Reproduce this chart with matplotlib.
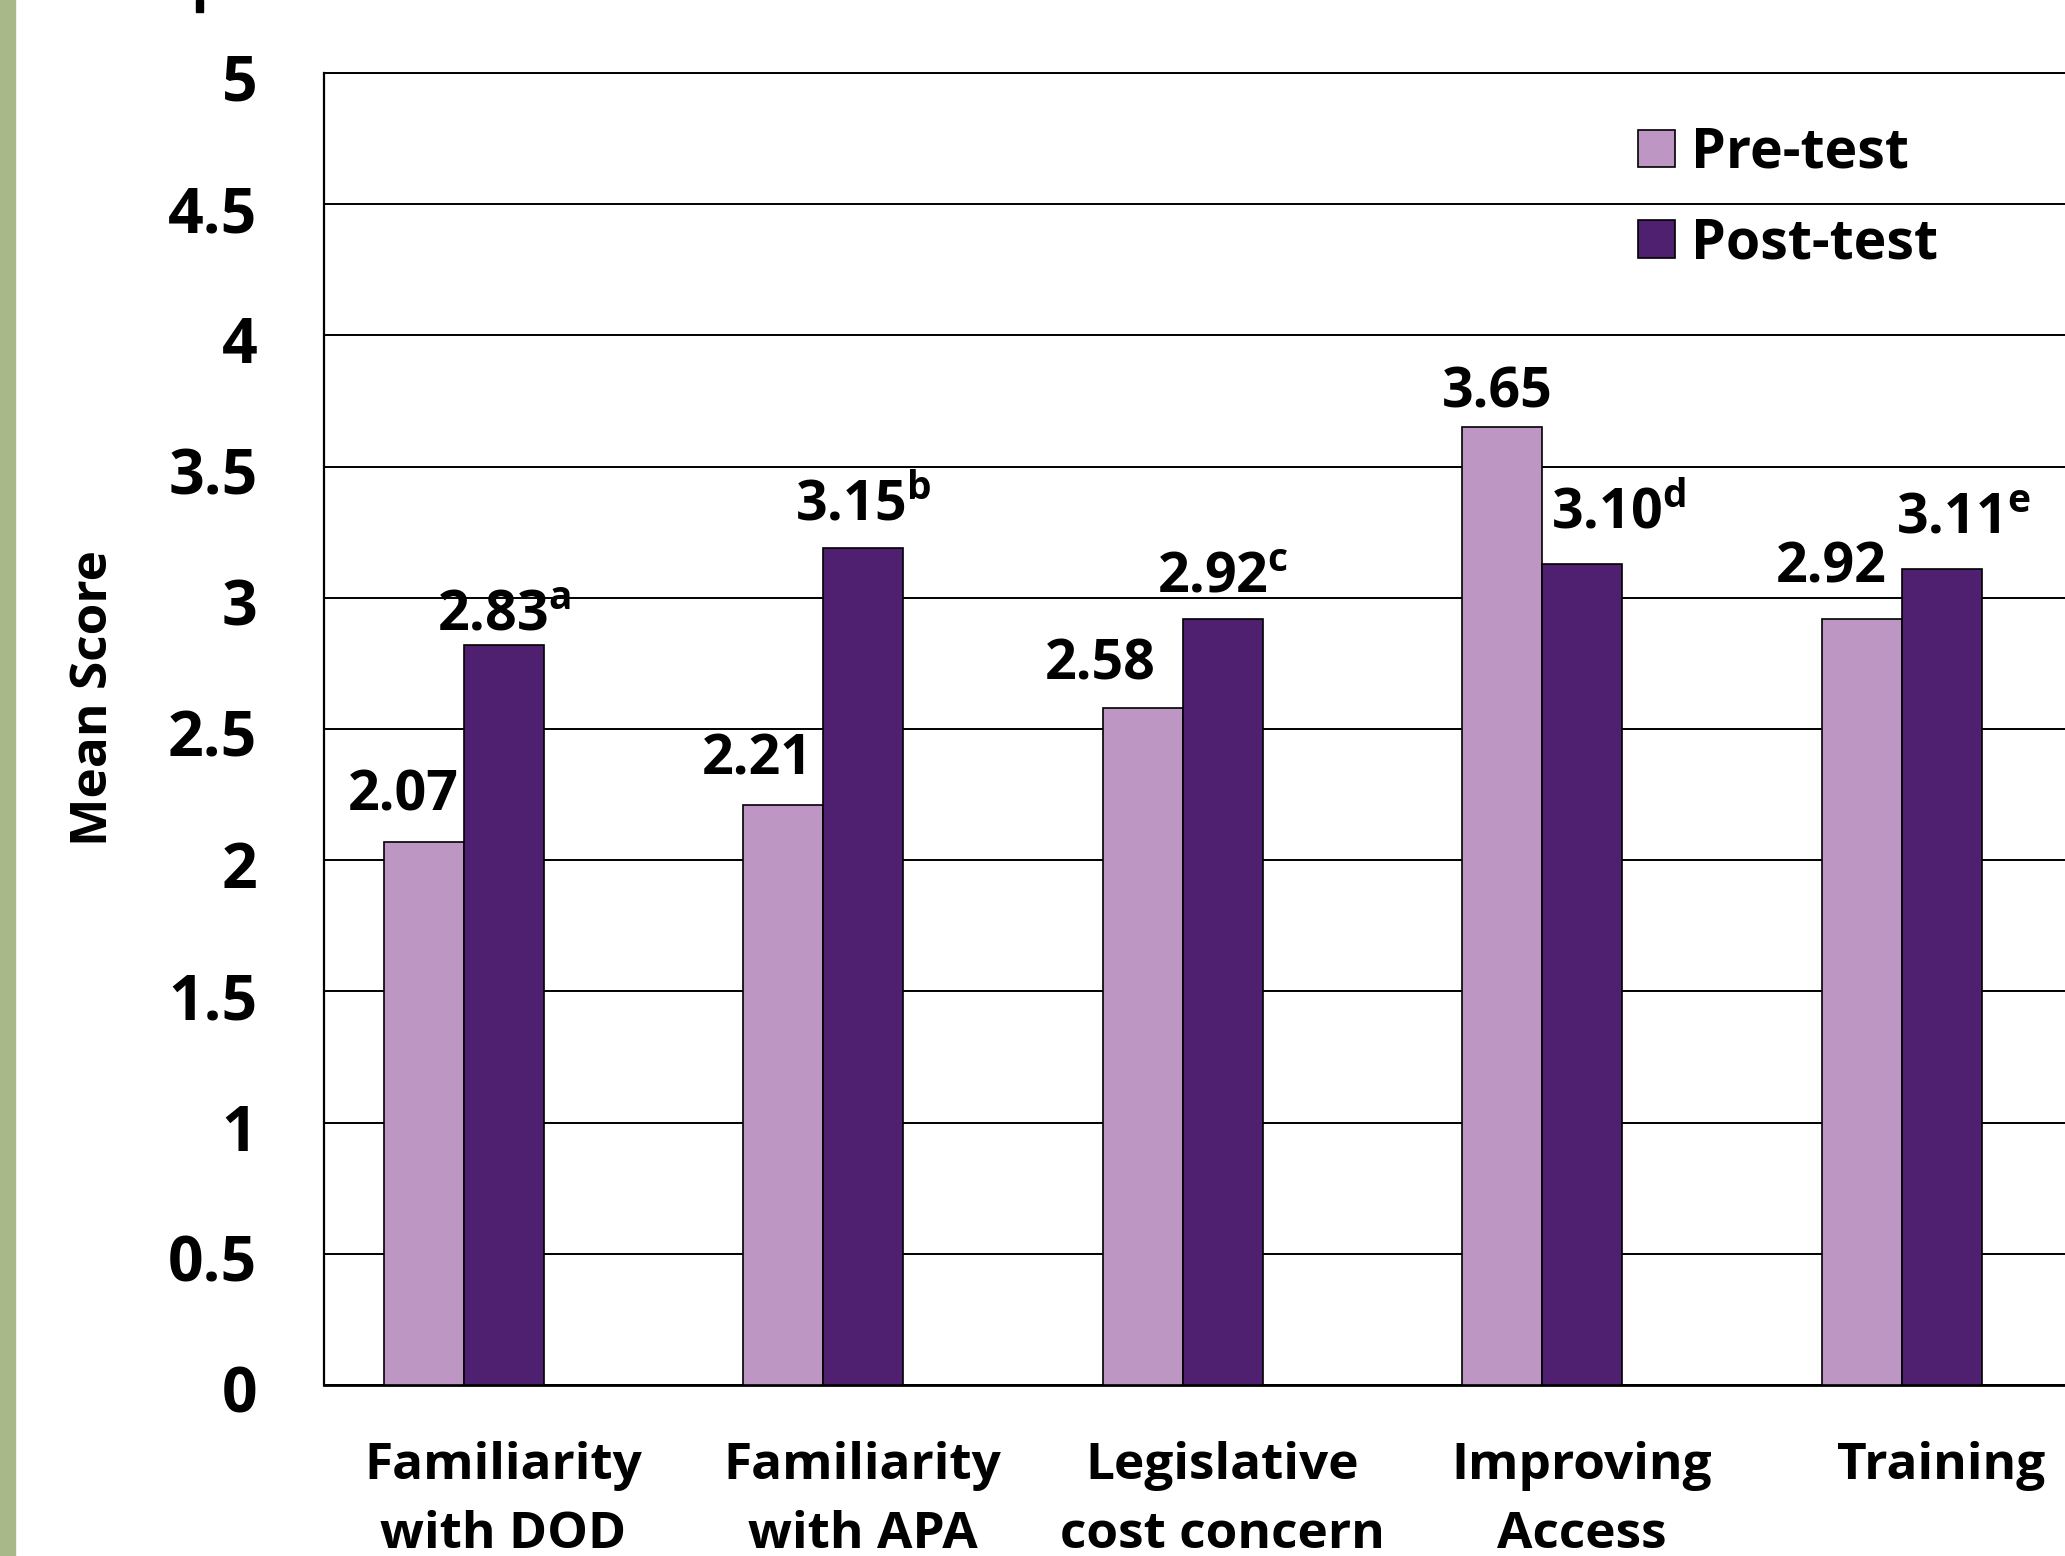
import matplotlib
matplotlib.use("Agg")
import matplotlib.pyplot as plt
import matplotlib.transforms as mtransforms
from matplotlib.patches import Rectangle
import numpy as np

plt.rcParams['font.family'] = ['Open Sans', 'DejaVu Sans']
plt.rcParams['font.weight'] = 'bold'
plt.rcParams['mathtext.fontset'] = 'custom'
plt.rcParams['mathtext.rm'] = 'Open Sans:bold'
plt.rcParams['mathtext.bf'] = 'Open Sans:bold'
plt.rcParams['mathtext.it'] = 'Open Sans:bold'

# data
categories = ['Familiarity\nwith DOD', 'Familiarity\nwith APA', 'Legislative\ncost concern',
              'Improving\nAccess', 'Training']
pre_test = [2.07, 2.21, 2.58, 3.65, 2.92]
post_test = [2.82, 3.19, 2.92, 3.13, 3.11]   # bar heights as drawn
pre_labels = ['2.07', '2.21', '2.58', '3.65', '2.92']
post_labels = ['2.83', '3.15', '2.92', '3.10', '3.11']
post_marks = ['a', 'b', 'c', 'd', 'e']
yticks = [0, 0.5, 1, 1.5, 2, 2.5, 3, 3.5, 4, 4.5, 5]
ytick_labels = ['0', '0.5', '1', '1.5', '2', '2.5', '3', '3.5', '4', '4.5', '5']

# label nudges (style only)
pre_dx = [-0.056, -0.072, -0.117, -0.014, -0.086]
pre_dy = [0.121, 0.115, 0.107, 0.075, 0.14]
post_dx = [0.0, 0.0, 0.0, 0.1, 0.06]
post_dy = [0.057, 0.106, 0.10, 0.136, 0.137]
cat_shift = 0.11

pre_color = '#BE96C3'
post_color = '#4F1F70'

fig = plt.figure(figsize=(20.65, 15.56), dpi=100)
ax = fig.add_axes([0.1569, 0.1099, 0.8431, 0.8432])

x = np.arange(len(categories))
w = 0.2225
ax.bar(x - w / 2, pre_test, w, color=pre_color, edgecolor='black', linewidth=1.2,
       label='Pre-test', zorder=3)
ax.bar(x + w / 2, post_test, w, color=post_color, edgecolor='black', linewidth=1.2,
       label='Post-test', zorder=3)

for i in range(len(categories)):
    ax.text(x[i] - w / 2 + pre_dx[i], pre_test[i] + pre_dy[i], pre_labels[i],
            ha='center', va='baseline', fontsize=40, fontweight='bold')
    ax.text(x[i] + w / 2 + post_dx[i], post_test[i] + post_dy[i],
            post_labels[i] + r'$^{\mathrm{' + post_marks[i] + '}}$',
            ha='center', va='baseline', fontsize=40, fontweight='bold')

ax.set_xlim(-0.388, 4.454)
ax.set_ylim(0, 5)
ax.set_yticks(yticks)
ax.set_yticklabels(ytick_labels, fontsize=45, fontweight='bold')
ax.set_xticks(x + cat_shift)
ax.set_xticklabels(categories, fontsize=37, fontweight='bold', linespacing=1.52)
ax.tick_params(axis='y', length=0, pad=48)
ax.tick_params(axis='x', length=0, pad=40)
# y tick labels sit a touch below their grid lines in the original
shift = mtransforms.ScaledTranslation(0, -4 / 100, fig.dpi_scale_trans)
for lab in ax.get_yticklabels():
    lab.set_transform(lab.get_transform() + shift)
ax.grid(axis='y', color='black', linewidth=1.4, zorder=0)
ax.set_axisbelow(True)
ax.spines['right'].set_visible(False)
ax.spines['top'].set_linewidth(1.4)
ax.spines['left'].set_linewidth(1.6)
ax.spines['bottom'].set_linewidth(2.0)

leg = ax.legend(loc='upper left', bbox_to_anchor=(1638 / 2065, 1 - 126 / 1556),
                bbox_transform=fig.transFigure, frameon=False, fontsize=40,
                handlelength=0.66, handleheight=0.66, handletextpad=0.3,
                labelspacing=0.64, borderpad=0, borderaxespad=0)
for t in leg.get_texts():
    t.set_fontweight('bold')

fig.text(94 / 2065, 1 - 698 / 1556, 'Mean Score', rotation=90, ha='center', va='center',
         fontsize=37, fontweight='bold')

# green band on the left edge and a cut-off mark at the top
fig.patches.append(Rectangle((0, 0), 15 / 2065, 1, transform=fig.transFigure,
                             color='#A8B888', zorder=0))
fig.patches.append(Rectangle((196 / 2065, 1 - 12 / 1556), 7 / 2065, 12 / 1556,
                             transform=fig.transFigure, color='black'))

fig.savefig('out.png', dpi=100)
